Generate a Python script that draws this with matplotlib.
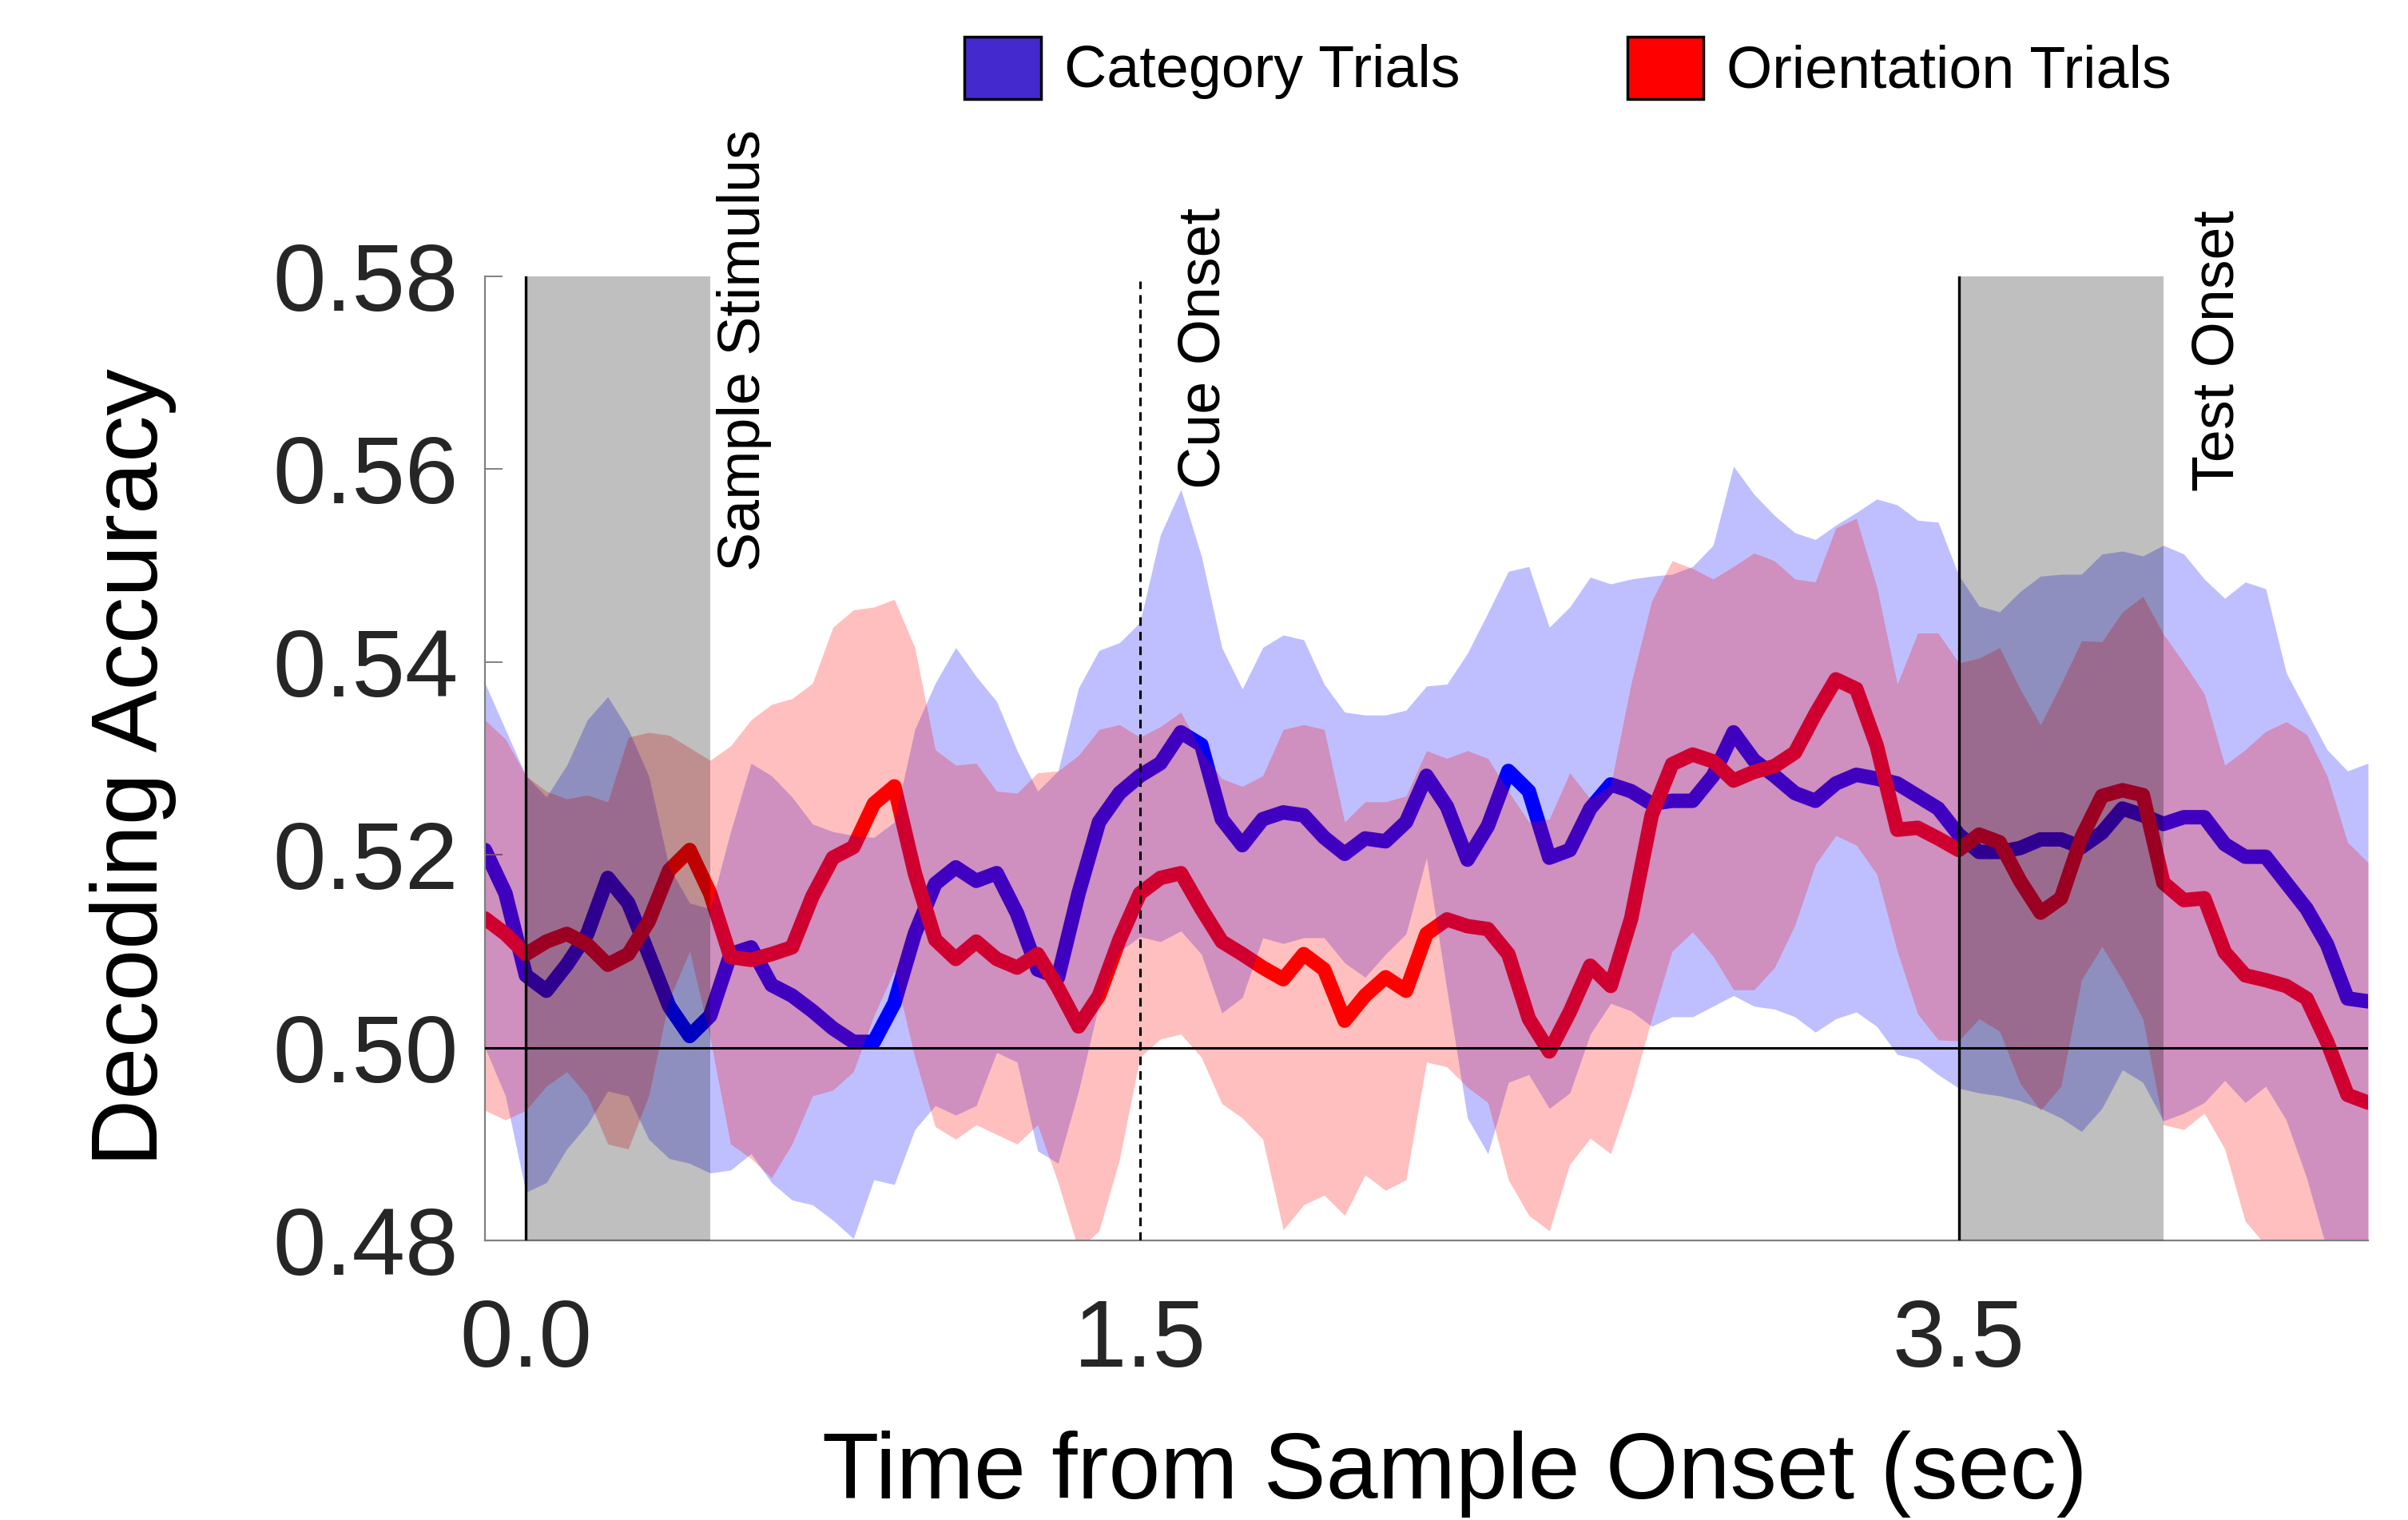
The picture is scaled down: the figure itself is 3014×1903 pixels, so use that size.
import numpy as np
import matplotlib
matplotlib.use("Agg")
import matplotlib.pyplot as plt
from matplotlib.patches import Patch

# ---------------- data ----------------
time = np.round(np.arange(-0.10, 4.5001, 0.05), 2)

cat_mean = [0.5205, 0.5160, 0.5075, 0.5059, 0.5086, 0.5118, 0.5176, 0.5150, 0.5097, 0.5043,
            0.5012, 0.5033, 0.5097, 0.5104, 0.5065, 0.5054, 0.5038, 0.5020, 0.5006, 0.5006,
            0.5046, 0.5118, 0.5170, 0.5187, 0.5173, 0.5181, 0.5139, 0.5081, 0.5073, 0.5160,
            0.5234, 0.5264, 0.5282, 0.5295, 0.5327, 0.5314, 0.5237, 0.5210, 0.5237, 0.5244,
            0.5241, 0.5218, 0.5201, 0.5217, 0.5214, 0.5234, 0.5282, 0.5250, 0.5195, 0.5230,
            0.5287, 0.5266, 0.5197, 0.5205, 0.5248, 0.5273, 0.5266, 0.5253, 0.5256, 0.5256,
            0.5282, 0.5327, 0.5298, 0.5282, 0.5264, 0.5256, 0.5274, 0.5283, 0.5279, 0.5274,
            0.5261, 0.5248, 0.5221, 0.5203, 0.5203, 0.5207, 0.5216, 0.5216, 0.5208, 0.5223,
            0.5248, 0.5241, 0.5232, 0.5239, 0.5239, 0.5211, 0.5198, 0.5198, 0.5171, 0.5144,
            0.5107, 0.5051, 0.5048]
cat_upper = [0.5378, 0.5330, 0.5282, 0.5260, 0.5293, 0.5340, 0.5364, 0.5330, 0.5282, 0.5187,
             0.5150, 0.5144, 0.5224, 0.5295, 0.5282, 0.5260, 0.5232, 0.5224, 0.5220, 0.5218,
             0.5234, 0.5330, 0.5378, 0.5415, 0.5385, 0.5359, 0.5308, 0.5266, 0.5287, 0.5373,
             0.5412, 0.5420, 0.5441, 0.5532, 0.5579, 0.5510, 0.5415, 0.5372, 0.5415, 0.5428,
             0.5423, 0.5377, 0.5348, 0.5345, 0.5345, 0.5350, 0.5375, 0.5377, 0.5409, 0.5451,
             0.5494, 0.5499, 0.5436, 0.5457, 0.5488, 0.5481, 0.5486, 0.5489, 0.5491, 0.5499,
             0.5521, 0.5603, 0.5574, 0.5552, 0.5534, 0.5527, 0.5542, 0.5555, 0.5569, 0.5563,
             0.5547, 0.5545, 0.5490, 0.5458, 0.5452, 0.5473, 0.5489, 0.5491, 0.5491, 0.5512,
             0.5515, 0.5510, 0.5521, 0.5512, 0.5486, 0.5466, 0.5483, 0.5476, 0.5389, 0.5349,
             0.5309, 0.5287, 0.5295]
cat_lower = [0.5000, 0.4950, 0.4850, 0.4860, 0.4895, 0.4920, 0.4955, 0.4950, 0.4905, 0.4885,
             0.4880, 0.4870, 0.4873, 0.4890, 0.4860, 0.4842, 0.4837, 0.4821, 0.4802, 0.4863,
             0.4858, 0.4915, 0.4940, 0.4930, 0.4940, 0.4995, 0.4985, 0.4893, 0.4880, 0.4955,
             0.5045, 0.5100, 0.5115, 0.5110, 0.5121, 0.5097, 0.5036, 0.5052, 0.5114, 0.5108,
             0.5114, 0.5114, 0.5088, 0.5073, 0.5097, 0.5118, 0.5197, 0.5060, 0.4927, 0.4890,
             0.4964, 0.4972, 0.4937, 0.4953, 0.5014, 0.5046, 0.5038, 0.5022, 0.5032, 0.5032,
             0.5043, 0.5054, 0.5043, 0.5040, 0.5032, 0.5016, 0.5030, 0.5037, 0.5022, 0.4993,
             0.4988, 0.4972, 0.4958, 0.4953, 0.4950, 0.4945, 0.4937, 0.4927, 0.4913, 0.4937,
             0.4977, 0.4964, 0.4924, 0.4932, 0.4943, 0.4966, 0.4943, 0.4960, 0.4925, 0.4865,
             0.4790, 0.4760, 0.4750]

ori_mean = [0.5134, 0.5118, 0.5097, 0.5110, 0.5118, 0.5107, 0.5086, 0.5097, 0.5131, 0.5184,
            0.5205, 0.5160, 0.5094, 0.5091, 0.5097, 0.5104, 0.5157, 0.5197, 0.5208, 0.5253,
            0.5271, 0.5181, 0.5112, 0.5092, 0.5110, 0.5092, 0.5083, 0.5097, 0.5062, 0.5022,
            0.5054, 0.5112, 0.5160, 0.5176, 0.5181, 0.5144, 0.5110, 0.5097, 0.5083, 0.5071,
            0.5097, 0.5081, 0.5028, 0.5054, 0.5073, 0.5059, 0.5118, 0.5133, 0.5126, 0.5123,
            0.5097, 0.5030, 0.4996, 0.5037, 0.5085, 0.5064, 0.5134, 0.5241, 0.5294, 0.5304,
            0.5297, 0.5277, 0.5286, 0.5292, 0.5306, 0.5346, 0.5382, 0.5372, 0.5313, 0.5226,
            0.5228, 0.5217, 0.5205, 0.5221, 0.5213, 0.5173, 0.5140, 0.5155, 0.5218, 0.5261,
            0.5267, 0.5262, 0.5171, 0.5153, 0.5155, 0.5099, 0.5075, 0.5070, 0.5064, 0.5051,
            0.5006, 0.4951, 0.4943]
ori_upper = [0.5340, 0.5320, 0.5282, 0.5266, 0.5258, 0.5262, 0.5255, 0.5322, 0.5327, 0.5324,
             0.5311, 0.5298, 0.5313, 0.5340, 0.5356, 0.5362, 0.5378, 0.5436, 0.5454, 0.5457,
             0.5465, 0.5415, 0.5309, 0.5293, 0.5295, 0.5266, 0.5264, 0.5285, 0.5287, 0.5303,
             0.5330, 0.5335, 0.5322, 0.5333, 0.5348, 0.5308, 0.5279, 0.5271, 0.5282, 0.5330,
             0.5335, 0.5330, 0.5234, 0.5255, 0.5255, 0.5261, 0.5308, 0.5300, 0.5308, 0.5300,
             0.5266, 0.5234, 0.5237, 0.5285, 0.5258, 0.5272, 0.5378, 0.5463, 0.5505, 0.5497,
             0.5486, 0.5499, 0.5513, 0.5505, 0.5486, 0.5483, 0.5539, 0.5549, 0.5478, 0.5377,
             0.5430, 0.5430, 0.5399, 0.5404, 0.5415, 0.5372, 0.5335, 0.5377, 0.5422, 0.5421,
             0.5452, 0.5468, 0.5429, 0.5399, 0.5367, 0.5293, 0.5309, 0.5328, 0.5338, 0.5325,
             0.5282, 0.5213, 0.5192]
ori_lower = [0.4935, 0.4925, 0.4935, 0.4960, 0.4975, 0.4950, 0.4900, 0.4895, 0.4950, 0.5050,
             0.5100, 0.5010, 0.4900, 0.4885, 0.4865, 0.4900, 0.4950, 0.4956, 0.4975, 0.5033,
             0.5080, 0.4990, 0.4918, 0.4905, 0.4920, 0.4910, 0.4900, 0.4920, 0.4860, 0.4790,
             0.4810, 0.4884, 0.4990, 0.5009, 0.5014, 0.4990, 0.4942, 0.4927, 0.4905, 0.4811,
             0.4837, 0.4847, 0.4826, 0.4868, 0.4852, 0.4863, 0.4985, 0.4980, 0.4959, 0.4943,
             0.4863, 0.4826, 0.4810, 0.4879, 0.4906, 0.4890, 0.4953, 0.5030, 0.5100, 0.5120,
             0.5095, 0.5060, 0.5060, 0.5083, 0.5127, 0.5190, 0.5220, 0.5210, 0.5180, 0.5100,
             0.5035, 0.5008, 0.5007, 0.5030, 0.5017, 0.4963, 0.4935, 0.4960, 0.5070, 0.5105,
             0.5070, 0.5030, 0.4920, 0.4915, 0.4932, 0.4895, 0.4820, 0.4795, 0.4780, 0.4770,
             0.4745, 0.4725, 0.4725]

yticks = [0.48, 0.50, 0.52, 0.54, 0.56, 0.58]
ytick_labels = ["0.48", "0.50", "0.52", "0.54", "0.56", "0.58"]
xticks = [0.0, 1.5, 3.5]
xtick_labels = ["0.0", "1.5", "3.5"]
stim_windows = [(0.0, 0.45), (3.5, 4.0)]
events = [(0.0, "-"), (1.5, "--"), (3.5, "-")]
event_labels = [(0.533, 0.5494, "Sample Stimulus"), (1.656, 0.558, "Cue Onset"),
                (4.134, 0.5577, "Test Onset")]
series_names = ["Category Trials", "Orientation Trials"]

# ---------------- figure ----------------
plt.rcParams['font.family'] = ['Liberation Sans', 'DejaVu Sans']
fig = plt.figure(figsize=(30.14, 19.03), dpi=100)
ax = fig.add_axes([0.2014, 0.1839, 0.9834 - 0.2014, 0.8182 - 0.1839])

# mean lines (drawn under the translucent bands, as in the original)
ax.plot(time, cat_mean, color=(0, 0, 1), lw=13, zorder=1,
        solid_capstyle='round', solid_joinstyle='round')
ax.plot(time, ori_mean, color=(1, 0, 0), lw=13, zorder=1,
        solid_capstyle='round', solid_joinstyle='round')

# error bands
ax.fill_between(time, cat_lower, cat_upper, color=(0, 0, 1), alpha=0.25, lw=0, zorder=2)
ax.fill_between(time, ori_lower, ori_upper, color=(1, 0, 0), alpha=0.25, lw=0, zorder=2)

# stimulus windows (translucent dark overlay)
for a, b in stim_windows:
    ax.axvspan(a, b, color='black', alpha=0.25, lw=0, zorder=3)

# event lines
for xv, ls in events:
    if ls == "--":
        ax.plot([xv, xv], [0.48, 0.5795], color='black', lw=2.2,
                linestyle=(0, (3.5, 2.5)), zorder=4)
    else:
        ax.plot([xv, xv], [0.48, 0.58], color='black', lw=2.4, zorder=4)

# chance line
ax.axhline(0.50, color='black', lw=2.2, zorder=4)

for xv, yv, s in event_labels:
    ax.text(xv, yv, s, rotation=90, ha='center', va='bottom', fontsize=53,
            color='black', clip_on=False)

ax.set_xlim(-0.1, 4.5)
ax.set_ylim(0.48, 0.58)
ax.set_yticks(yticks)
ax.set_yticklabels(ytick_labels)
ax.set_xticks(xticks)
ax.set_xticklabels(xtick_labels)

for s in ['top', 'right']:
    ax.spines[s].set_visible(False)
for s in ['left', 'bottom']:
    ax.spines[s].set_color('#808080')
    ax.spines[s].set_linewidth(1.6)

ax.tick_params(axis='y', direction='in', length=16, width=1.4, color='#808080',
               labelsize=86, labelcolor='#262626', pad=24)
ax.tick_params(axis='x', length=0, labelsize=86, labelcolor='#262626', pad=52)

ax.set_xlabel("Time from Sample Onset (sec)", fontsize=84, color='black')
ax.xaxis.set_label_coords(0.515, -0.197)
ax.set_ylabel("Decoding Accuracy", fontsize=84, color='black')
ax.yaxis.set_label_coords(-0.1638, 0.4905)

handles = [Patch(facecolor='#4429cf', edgecolor='black', linewidth=2.5, label=series_names[0]),
           Patch(facecolor='#ff0000', edgecolor='black', linewidth=2.5, label=series_names[1])]
fig.legend(handles=handles, loc='center left', bbox_to_anchor=(0.4005, 0.9553),
           bbox_transform=fig.transFigure, ncol=2, frameon=False, fontsize=53,
           handlelength=1.3, handleheight=1.25, handletextpad=0.39, columnspacing=2.85,
           borderpad=0, borderaxespad=0)

fig.savefig("out.png", dpi=100)
